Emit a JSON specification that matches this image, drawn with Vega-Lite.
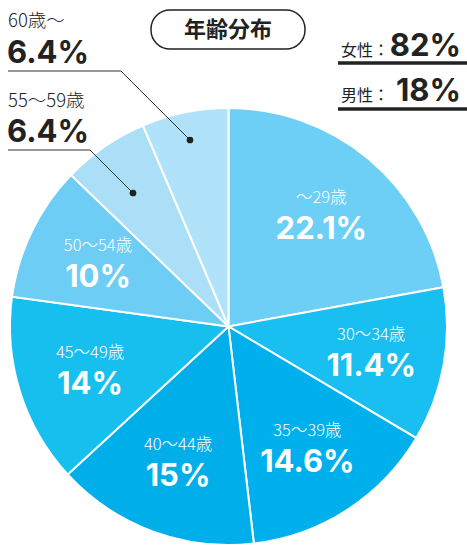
{
  "$schema": "https://vega.github.io/schema/vega-lite/v6.json",
  "width": 437,
  "height": 437,
  "autosize": "none",
  "padding": {"left": 10, "top": 108, "right": 20, "bottom": 2},
  "background": "white",
  "config": {"view": {"stroke": null}},
  "datasets": {
    "slices": [
      {"idx": 1, "age": "～29歳", "pct": 22.1, "label": "22.1%"},
      {"idx": 2, "age": "30～34歳", "pct": 11.4, "label": "11.4%"},
      {"idx": 3, "age": "35～39歳", "pct": 14.6, "label": "14.6%"},
      {"idx": 4, "age": "40～44歳", "pct": 15, "label": "15%"},
      {"idx": 5, "age": "45～49歳", "pct": 14, "label": "14%"},
      {"idx": 6, "age": "50～54歳", "pct": 10, "label": "10%"},
      {"idx": 7, "age": "55～59歳", "pct": 6.4, "label": "6.4%"},
      {"idx": 8, "age": "60歳～", "pct": 6.4, "label": "6.4%"}
    ]
  },
  "layer": [
    {
      "data": {"name": "slices"},
      "encoding": {
        "theta": {"field": "pct", "type": "quantitative", "stack": true},
        "order": {"field": "idx", "type": "quantitative"}
      },
      "layer": [
        {
          "mark": {"type": "arc", "outerRadius": 218.5, "stroke": "white", "strokeWidth": 2},
          "encoding": {
            "color": {
              "field": "age", "type": "nominal", "legend": null,
              "scale": {
                "domain": ["～29歳", "30～34歳", "35～39歳", "40～44歳", "45～49歳", "50～54歳", "55～59歳", "60歳～"],
                "range": ["#6dcff6", "#19bff0", "#00b0ec", "#00aeea", "#17bfef", "#6dcdf4", "#abdff8", "#b0e2f9"]
              }
            }
          }
        },
        {
          "mark": {"type": "text", "radius": 145, "dy": -17, "font": "Noto Sans CJK JP", "fontSize": 16.5, "fontWeight": 300, "color": "white", "align": "center", "baseline": "middle"},
          "encoding": {
            "text": {"condition": {"test": "datum.idx > 6", "value": ""}, "field": "age"}
          }
        },
        {
          "mark": {"type": "text", "radius": 145, "dy": 15, "font": "Inter", "fontSize": 31, "fontWeight": "bold", "color": "white", "align": "center", "baseline": "middle"},
          "encoding": {
            "text": {"condition": {"test": "datum.idx > 6", "value": ""}, "field": "label"}
          }
        }
      ]
    },
    {
      "data": {"values": [
        {"g": "a", "o": 1, "x": 8, "y": 71},
        {"g": "a", "o": 2, "x": 121, "y": 71},
        {"g": "a", "o": 3, "x": 190, "y": 140},
        {"g": "b", "o": 1, "x": 8, "y": 150},
        {"g": "b", "o": 2, "x": 90, "y": 150},
        {"g": "b", "o": 3, "x": 133, "y": 193}
      ]},
      "mark": {"type": "line", "color": "#333", "strokeWidth": 1},
      "encoding": {
        "x": {"field": "x", "type": "quantitative", "axis": null, "scale": {"domain": [10, 447], "nice": false, "zero": false}},
        "y": {"field": "y", "type": "quantitative", "axis": null, "scale": {"domain": [108, 545], "nice": false, "zero": false, "reverse": true}},
        "detail": {"field": "g"},
        "order": {"field": "o", "type": "quantitative"}
      }
    },
    {
      "data": {"values": [{"x": 190, "y": 140}, {"x": 133, "y": 193}]},
      "mark": {"type": "point", "filled": true, "size": 45, "color": "#222", "opacity": 1},
      "encoding": {
        "x": {"field": "x", "type": "quantitative"},
        "y": {"field": "y", "type": "quantitative"}
      }
    },
    {
      "data": {"values": [{"x": 338, "x2": 467, "y": 63}, {"x": 338, "x2": 467, "y": 109}]},
      "mark": {"type": "rule", "color": "#222", "strokeWidth": 3.5},
      "encoding": {
        "x": {"field": "x", "type": "quantitative"},
        "x2": {"field": "x2"},
        "y": {"field": "y", "type": "quantitative"}
      }
    },
    {
      "data": {"values": [{"x": 151, "x2": 305, "y": 10, "y2": 49}]},
      "mark": {"type": "rect", "fill": "transparent", "stroke": "#222", "strokeWidth": 1.5, "cornerRadius": 19},
      "encoding": {
        "x": {"field": "x", "type": "quantitative"},
        "x2": {"field": "x2"},
        "y": {"field": "y", "type": "quantitative"},
        "y2": {"field": "y2"}
      }
    },
    {
      "data": {"values": [{"x": 228, "y": 30, "t": "年齢分布"}]},
      "mark": {"type": "text", "font": "Noto Sans CJK JP", "fontSize": 22, "fontWeight": "bold", "color": "#222", "align": "center", "baseline": "middle"},
      "encoding": {
        "x": {"field": "x", "type": "quantitative"},
        "y": {"field": "y", "type": "quantitative"},
        "text": {"field": "t"}
      }
    },
    {
      "data": {"values": [{"x": 8, "y": 27, "t": "60歳～"}, {"x": 8, "y": 107, "t": "55～59歳"}]},
      "mark": {"type": "text", "font": "Noto Sans CJK JP", "fontSize": 18.5, "fontWeight": 300, "color": "#222", "align": "left", "baseline": "alphabetic"},
      "encoding": {
        "x": {"field": "x", "type": "quantitative"},
        "y": {"field": "y", "type": "quantitative"},
        "text": {"field": "t"}
      }
    },
    {
      "data": {"values": [{"x": 7, "y": 63, "t": "6.4%"}, {"x": 7, "y": 142, "t": "6.4%"}]},
      "mark": {"type": "text", "font": "Inter", "fontSize": 31, "fontWeight": "bold", "color": "#222", "align": "left", "baseline": "alphabetic"},
      "encoding": {
        "x": {"field": "x", "type": "quantitative"},
        "y": {"field": "y", "type": "quantitative"},
        "text": {"field": "t"}
      }
    },
    {
      "data": {"values": [{"x": 341, "y": 56, "t": "女性："}, {"x": 341, "y": 101, "t": "男性："}]},
      "mark": {"type": "text", "font": "Noto Sans CJK JP", "fontSize": 16, "color": "#222", "align": "left", "baseline": "alphabetic"},
      "encoding": {
        "x": {"field": "x", "type": "quantitative"},
        "y": {"field": "y", "type": "quantitative"},
        "text": {"field": "t"}
      }
    },
    {
      "data": {"values": [{"x": 461, "y": 56, "t": "82%"}, {"x": 461, "y": 101, "t": "18%"}]},
      "mark": {"type": "text", "font": "Inter", "fontSize": 31, "fontWeight": "bold", "color": "#222", "align": "right", "baseline": "alphabetic"},
      "encoding": {
        "x": {"field": "x", "type": "quantitative"},
        "y": {"field": "y", "type": "quantitative"},
        "text": {"field": "t"}
      }
    }
  ]
}
